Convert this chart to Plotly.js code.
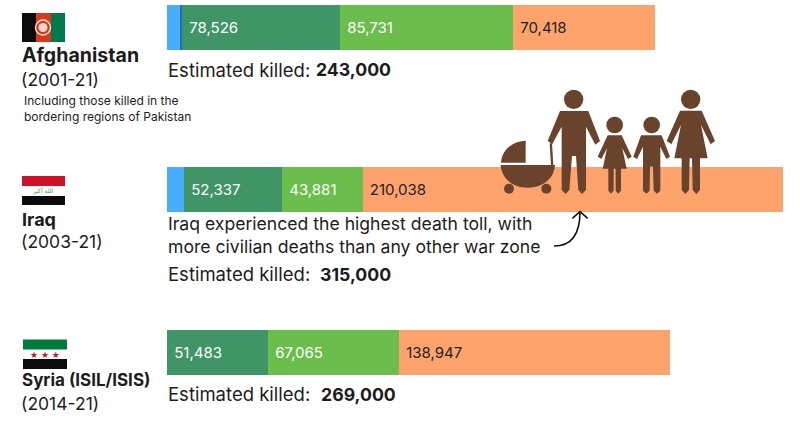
<!DOCTYPE html>
<html><head><meta charset="utf-8">
<script src="https://cdn.plot.ly/plotly-3.0.1.min.js"></script>
<style>html,body{margin:0;padding:0;background:#fff}#c{width:800px;height:445px}</style>
</head><body><div id="c"></div>
<script>
// ---- data ----
const categories = ['Afghanistan', 'Iraq', 'Syria (ISIL/ISIS)'];
const periods = ['(2001-21)', '(2003-21)', '(2014-21)'];
const totals = ['243,000', '315,000', '269,000'];
// drawn bar lengths, as they appear in the graphic
const coalition = [6500, 8500, 0];
const allies = [1000, 0, 0];
const nationalForces = [79000, 49000, 50500];
const opposition = [86500, 40300, 65500];
const civilians = [71000, 210000, 135500];
// printed labels
const nationalLabels = ['78,526', '52,337', '51,483'];
const oppositionLabels = ['85,731', '43,881', '67,065'];
const civilianLabels = ['70,418', '210,038', '138,947'];
const killedLabel = 'Estimated killed:';
const noteAfghanistan = 'Including those killed in the<br>bordering regions of Pakistan';
const noteIraq = 'Iraq experienced the highest death toll, with<br>more civilian deaths than any other war zone';

// ---- layout helpers (page pixels -> paper fractions) ----
const W = 800, H = 445, FONT = 'Inter, "DejaVu Sans", sans-serif';
const PER_PX = 500, X0 = 167;
const rowY = [27.5, 189.5, 352.5];
const fx = x => x / W, fy = y => 1 - y / H;
const BROWN = '#6a432d', INK = '#1c1c1c';

function pathOf(str, conv) {
  return str.replace(/(-?[\d.]+),(-?[\d.]+)/g, (m, a, b) => {
    const p = conv(+a, +b);
    return fx(p[0]).toFixed(5) + ',' + fy(p[1]).toFixed(5);
  });
}
const Z = (x, y) => [480 + x / 3, 80 + y / 3];   // icon drawn on a 3x grid
const ID = (x, y) => [x, y];
function poly(str, color) {
  return {type:'path', xref:'paper', yref:'paper', path:pathOf(str, Z), fillcolor:color, line:{width:0}};
}
function rect(x0, y0, x1, y1, color) {
  return {type:'rect', xref:'paper', yref:'paper', x0:fx(x0), x1:fx(x1), y0:fy(y0), y1:fy(y1), fillcolor:color, line:{width:0}};
}
function circ(cx, cy, r, color, conv) {
  const c = (conv || Z)(cx, cy), k = conv ? 1 : 1 / 3;
  return {type:'circle', xref:'paper', yref:'paper', x0:fx(c[0] - r * k), x1:fx(c[0] + r * k),
    y0:fy(c[1] - r * k), y1:fy(c[1] + r * k), fillcolor:color, line:{width:0}};
}

const shapes = [
  // Afghanistan flag
  rect(22, 13, 36, 42, '#0b0b0b'), rect(36, 13, 51, 42, '#d9381e'), rect(51, 13, 65, 42, '#007a4d'),
  {type:'circle', xref:'paper', yref:'paper', x0:fx(35.5), x1:fx(50.5), y0:fy(20), y1:fy(35), fillcolor:'rgba(0,0,0,0)', line:{color:'#f6e3d6', width:1.4}},
  circ(43, 27.5, 4.5, '#f6d8c8', ID),
  // Iraq flag
  rect(22, 176, 65, 186, '#ce1126'), rect(22, 196, 65, 205, '#0b0b0b'),
  // Syria flag
  rect(23, 339.5, 67, 349.5, '#007a3d'), rect(23, 359, 67, 369, '#0b0b0b'),
  // pram
  poly('M137,182 C95,184 65,212 63,248 L137,248 Z', BROWN),
  poly('M62,255 L225,255 C222,295 190,323 143,323 C96,323 65,295 62,255 Z', BROWN),
  circ(87, 326, 15, BROWN), circ(199, 326, 15, BROWN),
  poly('M209,190 L216,190 L220,255 L213,255 Z', BROWN),
  // man
  circ(281, 58, 29, BROWN),
  poly('M240,93 L325,93 L360,183 L346,194 L318,140 L318,330 L306,342 L295,330 L288,228 L276,228 L268,330 L257,342 L245,330 L245,140 L217,192 L203,183 Z', BROWN),
  // girl
  circ(404, 135, 25, BROWN),
  poly('M383,166 L425,166 L455,230 L444,237 L427,205 L440,266 L423,266 L423,332 L415,341 L407,332 L407,266 L401,266 L401,332 L393,341 L385,332 L385,266 L368,266 L381,205 L364,237 L353,230 Z', BROWN),
  // boy
  circ(515, 135, 25, BROWN),
  poly('M483,166 L545,166 L570,230 L559,237 L541,200 L541,332 L531,341 L521,332 L519,260 L510,260 L509,332 L499,341 L489,332 L489,200 L471,237 L460,230 Z', BROWN),
  // woman
  circ(632, 58, 29, BROWN),
  poly('M600,92 L665,92 L705,183 L692,193 L663,135 L683,235 L660,235 L660,330 L649,342 L638,330 L636,235 L629,235 L627,330 L616,342 L605,330 L605,235 L583,235 L603,135 L574,193 L560,183 Z', BROWN),
  // arrow
  {type:'path', xref:'paper', yref:'paper', path:pathOf('M222,498 C270,498 300,470 300,395', Z), line:{color:'#111', width:1.6}},
  {type:'path', xref:'paper', yref:'paper', path:pathOf('M277,415 L300,395 L323,415', Z), line:{color:'#111', width:1.6}}
];

function note(x, y, text, size, extra) {
  return Object.assign({xref:'paper', yref:'paper', x:fx(x), y:fy(y), xanchor:'left', yanchor:'middle',
    align:'left', showarrow:false, text:text, borderpad:0, font:{family:FONT, size:size, color:INK}}, extra || {});
}
const annotations = [
  note(20.5, 55, '<b>' + categories[0] + '</b>', 19.6),
  note(19.5, 79, periods[0], 17.5),
  note(22.5, 108.5, noteAfghanistan, 12),
  note(166.5, 70, killedLabel, 18.5),
  note(314.5, 70, '<b>' + totals[0] + '</b>', 17.7),
  note(20.5, 219, '<b>' + categories[1] + '</b>', 18),
  note(19.5, 241, periods[1], 17.5),
  note(166.5, 235, noteIraq, 17.6),
  note(166.5, 274, killedLabel, 18.5),
  note(318.5, 274, '<b>' + totals[1] + '</b>', 17.7),
  note(20.5, 380, '<b>' + categories[2] + '</b>', 17),
  note(19.5, 403, periods[2], 17.5),
  note(166.5, 394, killedLabel, 18.5),
  note(319.5, 394, '<b>' + totals[2] + '</b>', 17.7),
  note(43, 190.5, 'الله أكبر', 6, {xanchor:'center', font:{family:'"DejaVu Sans", sans-serif', size:6, color:'#2f9a5a'}}),
  note(44.5, 354.5, '★ ★ ★', 9, {xanchor:'center', font:{family:'"DejaVu Sans", sans-serif', size:9, color:'#ce1126'}})
];

function seg(name, vals, color, labels, labelColor) {
  const t = {type:'bar', orientation:'h', name:name, x:vals, y:rowY, width:45,
    marker:{color:color, line:{width:0}}, hoverinfo:'skip'};
  if (labels) {
    t.text = labels.map(s => '\u00a0' + s);
    t.textposition = 'inside';
    t.insidetextanchor = 'start';
    t.textangle = 0;
    t.constraintext = 'none';
    t.cliponaxis = false;
    t.insidetextfont = {family:FONT, size:15, color:labelColor};
  }
  return t;
}
const data = [
  seg('Coalition', coalition, '#4aaeff'),
  seg('Allies', allies, '#1f6fb5'),
  seg('National forces', nationalForces, '#3f9565', nationalLabels, '#ffffff'),
  seg('Opposition', opposition, '#6bbd4c', oppositionLabels, '#ffffff'),
  seg('Civilians', civilians, '#ffa36d', civilianLabels, '#222222')
];
const layout = {
  width:W, height:H, margin:{l:0, r:0, t:0, b:0, pad:0}, showlegend:false, barmode:'stack',
  paper_bgcolor:'#fff', plot_bgcolor:'#fff',
  xaxis:{range:[-X0 * PER_PX, (W - X0) * PER_PX], visible:false, fixedrange:true},
  yaxis:{range:[H, 0], visible:false, fixedrange:true},
  shapes:shapes, annotations:annotations
};
Plotly.newPlot('c', data, layout, {displayModeBar:false, staticPlot:true});
</script></body></html>
